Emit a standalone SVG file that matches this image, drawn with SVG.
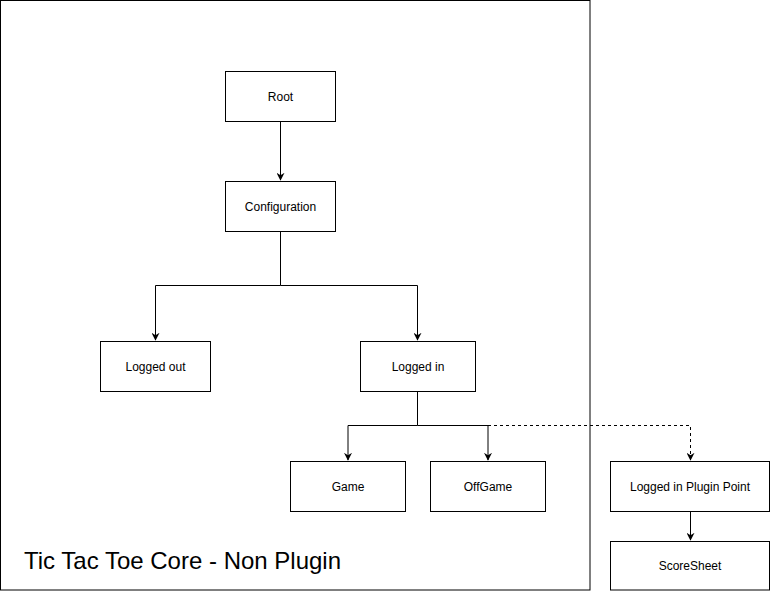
<svg xmlns="http://www.w3.org/2000/svg" width="771" height="591" viewBox="0 0 771 591">
<style>
.n rect{fill:#fff;stroke:#000;stroke-width:1}
.n text{font-family:"Liberation Sans",Arial,sans-serif;font-size:12px;fill:#000;text-anchor:middle;dominant-baseline:central}
.c path{fill:none;stroke:#000;stroke-width:1}
.d{stroke-dasharray:3 3}
.t{font-family:"Liberation Sans",Arial,sans-serif;font-size:24px;fill:#000}
</style>
<defs>
<marker id="a" viewBox="0 0 10 10" refX="9" refY="5" markerWidth="8" markerHeight="8" markerUnits="userSpaceOnUse" orient="auto">
<path d="M0,0 L10,5 L0,10 L3,5 Z" fill="#000"/>
</marker>
</defs>
<rect width="771" height="591" fill="#fff"/>
<g id="container">
<rect x="0.5" y="0.5" width="589.5" height="589.5" fill="#fff" stroke="#000"/>
<text class="t" x="24" y="569">Tic Tac Toe Core - Non Plugin</text>
</g>
<g class="c" id="connectors">
<path d="M280.5,121 V180" marker-end="url(#a)"/>
<path d="M280.5,231 V285.5 H155.5 V340" marker-end="url(#a)"/>
<path d="M280.5,285.5 H417.5 V340" marker-end="url(#a)"/>
<path d="M417.5,391 V425.5 H348 V460" marker-end="url(#a)"/>
<path d="M417.5,425.5 H488 V460" marker-end="url(#a)"/>
<path class="d" d="M488,425.5 H690.5 V460" marker-end="url(#a)"/>
<path d="M690.5,511 V540" marker-end="url(#a)"/>
</g>
<g class="n" id="root"><rect x="225.5" y="71.5" width="110" height="50"/><text x="280.5" y="96.5">Root</text></g>
<g class="n" id="configuration"><rect x="225.5" y="181.5" width="110" height="50"/><text x="280.5" y="206.5">Configuration</text></g>
<g class="n" id="logged-out"><rect x="100.5" y="341.5" width="110" height="50"/><text x="155.5" y="366.5">Logged out</text></g>
<g class="n" id="logged-in"><rect x="360.5" y="341.5" width="115" height="50"/><text x="418" y="366.5">Logged in</text></g>
<g class="n" id="game"><rect x="290.5" y="461.5" width="115" height="50"/><text x="348" y="486.5">Game</text></g>
<g class="n" id="offgame"><rect x="430.5" y="461.5" width="115" height="50"/><text x="488" y="486.5">OffGame</text></g>
<g class="n" id="plugin-point"><rect x="610.5" y="461.5" width="159" height="50"/><text x="690" y="486.5">Logged in Plugin Point</text></g>
<g class="n" id="scoresheet"><rect x="610.5" y="541.5" width="159" height="48.5"/><text x="690" y="566">ScoreSheet</text></g>
</svg>
